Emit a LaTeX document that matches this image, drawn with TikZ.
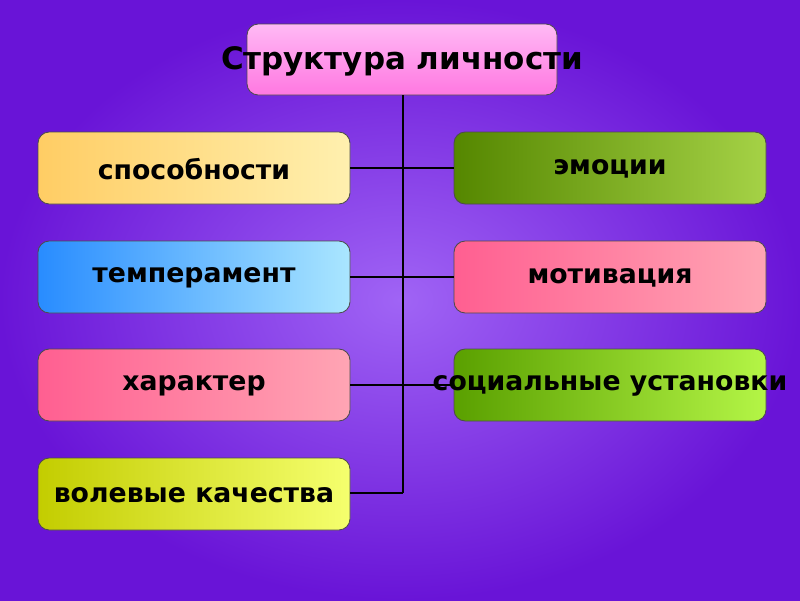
\documentclass[tikz,border=0pt]{standalone}
\usepackage{fontspec}
\setmainfont{DejaVu Sans}
\begin{document}
\begin{tikzpicture}[x=0.025cm,y=-0.025cm,
 conn/.style={draw=black,line width=0.8pt},
 lbl/.style={font=\bfseries\fontsize{19}{21}\selectfont}]
\shade[inner color={rgb,255:red,160;green,100;blue,245},outer color={rgb,255:red,105;green,20;blue,215}] (0,0) rectangle (800,600);
\useasboundingbox (0,0) rectangle (800,600);
\newcommand{\bx}[6]{%
 \shade[rounded corners=8pt,left color=#5,right color=#6,draw=black!70,line width=0.6pt] (#1,#2) rectangle ++(312,72);
 \node[lbl] (#3) at (#1+156,#2+37) {#4};}
\shade[rounded corners=8pt,top color={rgb,255:red,255;green,185;blue,245},bottom color={rgb,255:red,255;green,120;blue,225},draw=black!70,line width=0.6pt] (247,24) rectangle (557,95);
\node[font=\bfseries\fontsize{22}{24}\selectfont] (t) at (402,61) {Структура личности};
\coordinate (tb) at (403,95);
\bx{38}{132}{a}{способности}{{rgb,255:red,255;green,205;blue,100}}{{rgb,255:red,255;green,240;blue,175}}
\bx{38}{241}{b}{темперамент}{{rgb,255:red,40;green,140;blue,255}}{{rgb,255:red,170;green,230;blue,255}}
\bx{38}{349}{c}{характер}{{rgb,255:red,255;green,95;blue,145}}{{rgb,255:red,255;green,165;blue,180}}
\bx{38}{458}{d}{волевые качества}{{rgb,255:red,195;green,205;blue,0}}{{rgb,255:red,245;green,255;blue,110}}
\bx{454}{132}{e}{эмоции}{{rgb,255:red,85;green,135;blue,0}}{{rgb,255:red,165;green,210;blue,70}}
\bx{454}{241}{f}{мотивация}{{rgb,255:red,255;green,95;blue,145}}{{rgb,255:red,255;green,165;blue,180}}
\bx{454}{349}{g}{социальные установки}{{rgb,255:red,90;green,160;blue,0}}{{rgb,255:red,180;green,245;blue,70}}
\coordinate (j4) at (403,493);
\draw[conn] (tb) -- (j4);
\foreach \y in {168,277,385,493}{\draw[conn] (350,\y) -- (403,\y);}
\foreach \y in {168,277,385}{\draw[conn] (403,\y) -- (454,\y);}
\end{tikzpicture}
\end{document}
